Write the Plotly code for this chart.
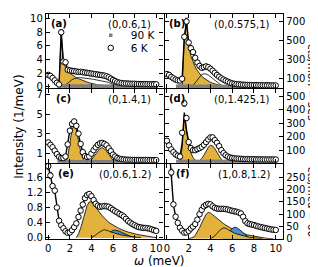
import plotly.graph_objects as go

W, H = 318, 267

# ---------------- data ----------------
omega = [0.0, 0.2, 0.4, 0.6, 0.8, 1.0, 1.2, 1.4, 1.6, 1.8,
         2.0, 2.2, 2.4, 2.6, 2.8, 3.0, 3.2, 3.4, 3.6, 3.8,
         4.0, 4.2, 4.4, 4.6, 4.8, 5.0, 5.2, 5.4, 5.6, 5.8,
         6.0, 6.2, 6.4, 6.6, 6.8, 7.0, 7.2, 7.4, 7.6, 7.8,
         8.0, 8.2, 8.4, 8.6, 8.8, 9.0, 9.2, 9.4, 9.6, 9.8,
         10.0]

# (a) Q = (0,0.6,1)  [1/meV]
i6_a = [1.75, 1.6, 1.3, 0.95, 0.6, 0.35, 8.0, 3.7, 3.6, 2.5,
        2.4, 2.35, 2.3, 2.25, 2.2, 2.2, 2.15, 2.1, 2.05, 2.0,
        1.95, 1.9, 1.85, 1.8, 1.75, 1.7, 1.65, 1.55, 1.4, 1.2,
        1.0, 0.85, 0.7, 0.6, 0.55, 0.5, 0.5, 0.48, 0.45, 0.45,
        0.45, 0.42, 0.42, 0.4, 0.4, 0.4, 0.4, 0.38, 0.38, 0.38,
        0.38]
i90_a = [None, None, None, None, None, 0.12, 0.15, 0.12, 0.1, 0.12,
         0.1, 0.1, 0.12, 0.1, 0.1, 0.12, 0.1, 0.1, 0.1, 0.12,
         0.1, 0.1, 0.1, 0.1, 0.12, 0.1, 0.1, 0.1, 0.1, 0.1,
         0.12, 0.1, 0.1, 0.1, 0.1, 0.1, 0.1, 0.1, 0.1, 0.1,
         0.1, 0.1, 0.1, 0.1, 0.1, 0.1, 0.1, 0.1, 0.1, 0.1,
         0.1]
yel_a = [None, None, None, None, None, 0.0, 7.9, 3.5, 2.8, 2.3,
         2.0, 1.75, 1.55, 1.35, 1.2, 1.05, 0.92, 0.8, 0.7, 0.6,
         0.5, 0.42, 0.35, 0.28, 0.22, 0.17, 0.13, 0.1, 0.07, 0.05,
         0.03, 0.02, 0.0] + [None] * 18
hump_a = [None] * 7 + [0.0, 0.3, 0.6,
          0.85, 1.05, 1.2, 1.3, 1.35, 1.35, 1.33, 1.3, 1.25, 1.2,
          1.15, 1.1, 1.05, 1.0, 0.95, 0.9, 0.85, 0.78, 0.65, 0.5,
          0.35, 0.25, 0.15, 0.1, 0.05, 0.02, 0.0] + [None] * 14

# (b) Q = (0,0.575,1)  [cts/mon]
i6_b = [150, 140, 120, 105, 92, 84, 82, 100, 540, 700,
        480, 420, 380, 320, 270, 235, 215, 222, 230, 222,
        205, 185, 162, 140, 122, 105, 92, 80, 70, 60,
        52, 47, 44, 42, 40, 38, 37, 36, 35, 35,
        34, 34, 33, 33, 32, 32, 31, 31, 30, 30,
        30]
i90_b = [None, None, None, None, None, 22, 24, 22, 20, 22,
         20, 21, 22, 20, 20, 21, 20, 20, 20, 21,
         20, 20, 20, 20, 21, 20, 20, 20, 20, 20,
         21, 20, 20, 20, 20, 20, 20, 20, 20, 20,
         20, 20, 20, 20, 20, 20, 20, 20, 20, 20,
         20]
yel_b = [None] * 7 + [0, 520, 690,
         450, 340, 275, 225, 185, 152, 127, 107, 91, 77,
         64, 54, 45, 38, 31, 26, 21, 17, 13, 10,
         7, 5, 3, 2, 1, 0] + [None] * 15
hump_b = [None] * 10 + [0, 10, 30, 60, 95, 125, 145, 152, 150, 140,
          125, 105, 85, 65, 48, 34, 23, 15, 9, 5,
          2, 0] + [None] * 19

# (c) Q = (0,1.4,1)  [1/meV]
i6_c = [2.1, 1.85, 1.6, 1.25, 0.9, 0.62, 0.5, 0.5, 0.65, 1.9,
        3.3, 4.0, 4.25, 3.8, 3.0, 1.95, 1.1, 0.7, 0.6, 0.65,
        0.95, 1.3, 1.6, 1.85, 2.0, 2.05, 1.95, 1.8, 1.5, 1.2,
        0.85, 0.65, 0.5, 0.42, 0.38, 0.35, 0.33, 0.32, 0.31, 0.3,
        0.3, 0.3, 0.3, 0.29, 0.29, 0.3, 0.29, 0.28, 0.28, 0.28,
        0.28]
i90_c = [None, None, None, None, None, 0.12, 0.12, 0.13, 0.12, 0.12,
         0.12, 0.13, 0.12, 0.12, 0.12, 0.12, 0.12, 0.12, 0.12, 0.12,
         0.12, 0.12, 0.13, 0.12, 0.12, 0.12, 0.12, 0.12, 0.12, 0.12,
         0.12, 0.12, 0.12, 0.12, 0.12, 0.12, 0.12, 0.12, 0.12, 0.12,
         0.12, 0.12, 0.12, 0.12, 0.12, 0.12, 0.12, 0.12, 0.12, 0.12,
         0.12]
yel_c = [None] * 7 + [0.0, 0.05, 0.6,
         2.1, 3.4, 3.9, 3.4, 2.3, 1.2, 0.5, 0.15, 0.05, 0.1,
         0.3, 0.6, 0.95, 1.3, 1.5, 1.55, 1.45, 1.2, 0.85, 0.5,
         0.25, 0.1, 0.03, 0.0] + [None] * 17

# (d) Q = (0,1.425,1)  [cts/mon]
i6_d = [170, 135, 105, 85, 68, 58, 52, 230, 450, 340,
        160, 115, 100, 100, 108, 115, 125, 140, 160, 180,
        195, 195, 175, 155, 130, 100, 78, 62, 52, 45,
        42, 39, 37, 36, 35, 34, 33, 33, 32, 32,
        32, 31, 31, 31, 30, 30, 30, 30, 30, 30,
        30]
fit_d = [170, 135, 105, 85, 68, 58, 55, 150, 380, 250,
         165, 120, 105, 102, 106, 115, 125, 140, 158, 176,
         188, 187, 172, 150, 125, 100, 80, 64, 53, 46,
         42, 39, 37, 36, 35, 34, 33, 33, 32, 32,
         32, 31, 31, 31, 30, 30, 30, 30, 30, 30,
         30]
i90_d = [None, None, None, None, None, 16, 17, 16, 15, 16,
         15, 15, 16, 15, 15, 15, 15, 16, 15, 15,
         15, 15, 15, 16, 15, 15, 15, 15, 15, 15,
         15, 15, 15, 15, 15, 15, 15, 15, 15, 15,
         15, 15, 15, 15, 15, 15, 15, 15, 15, 15,
         15]
yel_d = [None] * 6 + [0, 120, 360, 230,
         135, 80, 45, 25, 18, 22, 38, 62, 95, 122,
         136, 132, 112, 84, 55, 30, 15, 6, 2, 0] + [None] * 21

# (e) Q = (0,0.6,1.2)  [1/meV]
i6_e = [1.9, 1.65, 1.37, 1.25, 0.8, 0.45, 0.33, 0.25, 0.17, 0.13,
        0.14, 0.2, 0.28, 0.38, 0.55, 0.72, 0.88, 1.05, 1.13, 1.16,
        1.1, 1.0, 0.9, 0.85, 0.82, 0.83, 0.84, 0.83, 0.82, 0.78,
        0.74, 0.7, 0.67, 0.63, 0.6, 0.56, 0.5, 0.44, 0.4, 0.36,
        0.33, 0.3, 0.28, 0.27, 0.26, 0.26, 0.25, 0.24, 0.22, 0.2,
        0.18]
yel_e = [None] * 13 + [0.0, 0.1, 0.25, 0.45, 0.68, 0.85, 0.95,
         0.95, 0.88, 0.8, 0.72, 0.65, 0.58, 0.52, 0.46, 0.41, 0.37,
         0.33, 0.3, 0.27, 0.24, 0.21, 0.19, 0.17, 0.15, 0.13, 0.12,
         0.1, 0.09, 0.08, 0.07, 0.06, 0.05, 0.04, 0.03, 0.02, 0.01,
         0.0]
small_e = [None] * 20 + [0.0, 0.03, 0.07, 0.12, 0.16, 0.19, 0.21, 0.2, 0.18, 0.15,
           0.13, 0.11, 0.09, 0.08, 0.07, 0.06, 0.05, 0.04, 0.03, 0.02,
           0.02, 0.01, 0.01, 0.0] + [None] * 7
blue_e = [None] * 25 + [0.0, 0.03, 0.08, 0.13, 0.17,
          0.19, 0.2, 0.19, 0.17, 0.14, 0.11, 0.08, 0.05, 0.03, 0.01,
          0.0] + [None] * 10

# (f) Q = (1,0.8,1.2)  [cts/mcu]
i6_f = [None, 380, 270, 140, 90, 65, 45, 33, 25, 26,
        32, 42, 50, 60, 78, 100, 118, 132, 138, 142,
        140, 132, 126, 123, 122, 122, 122, 121, 119, 116,
        114, 112, 110, 107, 103, 90, 72, 63, 60, 58,
        56, 53, 50, 48, 46, 44, 42, 40, 38, 37,
        36]
yel_f = [None] * 10 + [0, 2, 6, 14, 28, 45, 65, 85, 100, 108,
         105, 98, 90, 82, 75, 68, 62, 56, 50, 45,
         40, 36, 32, 28, 25, 22, 19, 16, 14, 12,
         10, 8, 6, 5, 4, 3, 2, 1, 1, 0] + [None]
small_f = [None] * 20 + [0, 5, 12, 22, 32, 40, 44, 43, 38, 32,
           27, 23, 20, 17, 14, 12, 10, 8, 6, 5,
           4, 3, 2, 1, 0] + [None] * 6
blue_f = [None] * 26 + [0, 8, 20, 32,
          42, 47, 46, 40, 32, 23, 15, 8, 3, 0] + [None] * 11

# tick values / labels
xticks = [0, 2, 4, 6, 8, 10]
yt_a = [0, 2, 4, 6, 8, 10]
yt_b = [100, 300, 500, 700]
yt_c = [1, 3, 5, 7]
yt_d = [100, 200, 300, 400, 500]
yt_e = [0.0, 0.4, 0.8, 1.2, 1.6]
yt_f = [0, 50, 100, 150, 200, 250]

q_labels = ["(0,0.6,1)", "(0,0.575,1)", "(0,1.4,1)", "(0,1.425,1)", "(0,0.6,1.2)", "(1,0.8,1.2)"]
p_labels = ["(a)", "(b)", "(c)", "(d)", "(e)", "(f)"]

# ---------------- styling / layout ----------------
YEL = "#E3B23C"
BLUE = "#4A8ED8"
GRAY = "#7f7f7f"

col_px = [(37, 155), (156, 275)]
row_px = [(5, 81), (82, 158), (159, 236)]
xrange_ = [-0.22, 10.68]

panels = [
    dict(r=0, c=0, d6=i6_a, fit=i6_a, d90=i90_a, yel=yel_a, hump=hump_a, yr=[-0.15, 10.7], yt=yt_a, fmt=None, lab_dx=3),
    dict(r=0, c=1, d6=i6_b, fit=i6_b, d90=i90_b, yel=yel_b, hump=hump_b, yr=[5, 780], yt=yt_b, fmt=None, lab_dx=2),
    dict(r=1, c=0, d6=i6_c, fit=i6_c, d90=i90_c, yel=yel_c, yr=[0, 7.6], yt=yt_c, fmt=None, lab_dx=8),
    dict(r=1, c=1, d6=i6_d, fit=fit_d, d90=i90_d, yel=yel_d, yr=[5, 558], yt=yt_d, fmt=None, lab_dx=2),
    dict(r=2, c=0, d6=i6_e, fit=i6_e, yel=yel_e, small=small_e, blue=blue_e, yr=[-0.03, 1.96], yt=yt_e, fmt=".1f", lab_dx=10),
    dict(r=2, c=1, d6=i6_f, fit=i6_f, yel=yel_f, small=small_f, blue=blue_f, yr=[0, 305], yt=yt_f, fmt=None, lab_dx=10),
]

fig = go.Figure()
layout = dict(width=W, height=H, margin=dict(l=0, r=0, t=0, b=0),
              paper_bgcolor="white", plot_bgcolor="white",
              font=dict(family="DejaVu Sans", size=10, color="black"),
              showlegend=True, annotations=[])

for n, p in enumerate(panels, start=1):
    xa = "x" if n == 1 else f"x{n}"
    ya = "y" if n == 1 else f"y{n}"
    x0, x1 = col_px[p["c"]]
    t0, t1 = row_px[p["r"]]
    axis_common = dict(showline=True, linecolor="black", linewidth=1.2, mirror="allticks",
                       ticks="inside", ticklen=4, tickwidth=1, tickcolor="black",
                       showgrid=False, zeroline=False, tickfont=dict(size=10))
    layout[f"xaxis{'' if n == 1 else n}"] = dict(
        domain=[x0 / W, x1 / W], range=xrange_, anchor=ya, tickvals=xticks,
        showticklabels=(p["r"] == 2), **axis_common)
    layout[f"yaxis{'' if n == 1 else n}"] = dict(
        domain=[1 - t1 / H, 1 - t0 / H], range=p["yr"], anchor=xa, tickvals=p["yt"],
        side="left" if p["c"] == 0 else "right",
        tickformat=p["fmt"], **axis_common)

    comp_line = dict(color="black", width=0.8)
    fig.add_trace(go.Scatter(x=omega, y=p["yel"], xaxis=xa, yaxis=ya, mode="lines",
                             fill="tozeroy", fillcolor=YEL, line=comp_line, showlegend=False))
    if "blue" in p:
        fig.add_trace(go.Scatter(x=omega, y=p["blue"], xaxis=xa, yaxis=ya, mode="lines",
                                 fill="tozeroy", fillcolor=BLUE, line=comp_line, showlegend=False))
        fig.add_trace(go.Scatter(x=omega, y=p["small"], xaxis=xa, yaxis=ya, mode="lines",
                                 fill="tozeroy", fillcolor=YEL, line=comp_line, showlegend=False))
    if "hump" in p:
        fig.add_trace(go.Scatter(x=omega, y=p["hump"], xaxis=xa, yaxis=ya, mode="lines",
                                 line=comp_line, showlegend=False))
    fig.add_trace(go.Scatter(x=omega, y=p["fit"], xaxis=xa, yaxis=ya, mode="lines",
                             line=dict(color="black", width=1.4), showlegend=False))
    if "d90" in p:
        fig.add_trace(go.Scatter(x=omega, y=p["d90"], xaxis=xa, yaxis=ya, mode="markers",
                                 marker=dict(symbol="square", size=3.5, color=GRAY, line=dict(width=0)),
                                 error_y=dict(type="percent", value=8, color=GRAY, thickness=0.8, width=1),
                                 name="90 K", showlegend=(n == 1), legend="legend"))
    fig.add_trace(go.Scatter(x=omega, y=p["d6"], xaxis=xa, yaxis=ya, mode="markers",
                             marker=dict(symbol="circle", size=5.5, color="white",
                                         line=dict(color="black", width=1)),
                             error_y=dict(type="percent", value=5, color="black", thickness=0.8, width=1.5),
                             name="6 K", showlegend=(n == 1), legend="legend2"))

    layout["annotations"].append(dict(
        text=f"<b>{p_labels[n - 1]}</b>", xref="paper", yref="paper",
        x=(x0 + p["lab_dx"]) / W, y=1 - (t0 + 10) / H, xanchor="left", yanchor="middle",
        showarrow=False, font=dict(size=10)))
    layout["annotations"].append(dict(
        text=q_labels[n - 1], xref="paper", yref="paper",
        x=(x1 - 11) / W, y=1 - (t0 + 11) / H, xanchor="right", yanchor="middle",
        showarrow=False, font=dict(size=10)))

layout["annotations"] += [
    dict(text="Intensity (1/meV)", xref="paper", yref="paper", x=10 / W, y=1 - 121 / H,
         textangle=-90, showarrow=False, font=dict(size=12), xanchor="center", yanchor="middle"),
    dict(text="cts/mon = 3e5", xref="paper", yref="paper", x=304 / W, y=1 - 76 / H,
         textangle=90, showarrow=False, font=dict(size=10.5), xanchor="center", yanchor="middle"),
    dict(text="cts/mcu = 60", xref="paper", yref="paper", x=304 / W, y=1 - 198 / H,
         textangle=90, showarrow=False, font=dict(size=10.5), xanchor="center", yanchor="middle"),
    dict(text="<i>ω</i> (meV)", xref="paper", yref="paper", x=151 / W, y=1 - 259 / H,
         showarrow=False, font=dict(size=12), xanchor="center", yanchor="middle"),
]

leg_common = dict(xanchor="left", yanchor="top", bgcolor="rgba(0,0,0,0)",
                  font=dict(size=10.5), itemwidth=30, borderwidth=0)
layout["legend"] = dict(x=82 / W, y=1 - 12 / H, **leg_common)
layout["legend2"] = dict(x=82 / W, y=1 - 25 / H, **leg_common)

fig.update_layout(**layout)
fig.write_html("out.html")
